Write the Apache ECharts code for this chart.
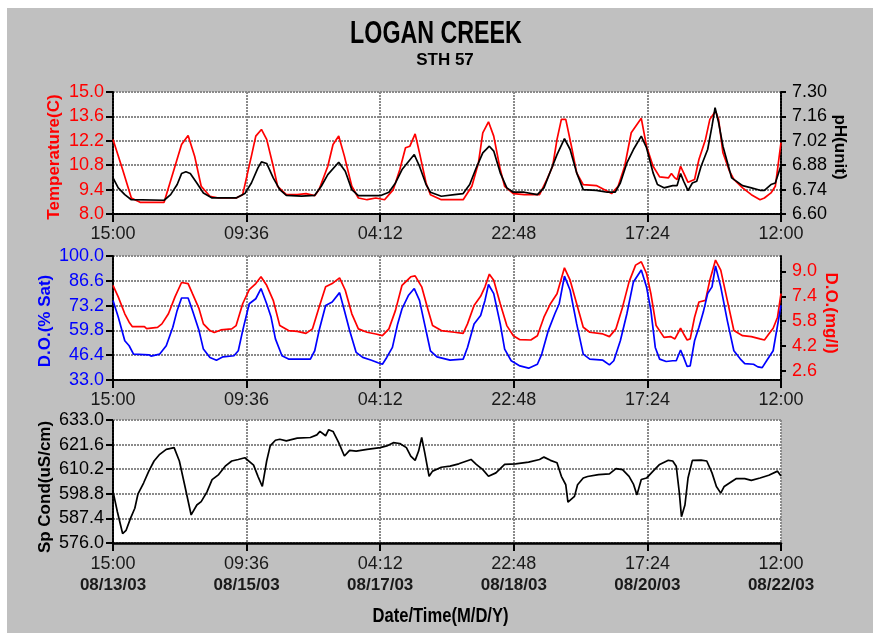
<!DOCTYPE html>
<html>
<head>
<meta charset="utf-8">
<script src="https://cdn.jsdelivr.net/npm/echarts@6/dist/echarts.min.js"></script>
<style>
html,body{margin:0;padding:0;background:#ffffff;}
#chart{position:absolute;left:7px;top:8px;width:866px;height:625px;}
</style>
</head>
<body>
<div id="chart"></div>
<script>
// ---- Data (x = hours since 08/13/03 15:00) ----
const timeLabels = ['15:00','09:36','04:12','22:48','17:24','12:00'];
const dateLabels = ['08/13/03','08/15/03','08/17/03','08/18/03','08/20/03','08/22/03'];
const doMgTicks = [2.6, 4.2, 5.8, 7.4, 9.0];

const temperature = [[0,12.28],[3.06,10.55],[5.85,8.92],[8.63,8.67],[16.29,8.67],[19.77,10.74],[21.86,11.99],[23.95,12.51],[26.03,11.32],[28.12,9.59],[30.91,9.02],[33.69,8.92],[39.26,8.92],[41.35,9.11],[44.13,11.32],[45.53,12.47],[47.33,12.85],[49.00,12.28],[51.09,10.74],[52.48,9.59],[55.27,9.11],[58.75,9.11],[61.53,9.17],[64.32,9.05],[65.71,9.40],[68.49,10.74],[70.16,11.99],[71.97,12.47],[73.78,11.32],[76.15,9.59],[78.24,8.92],[81.02,8.82],[83.81,8.92],[86.59,8.82],[89.38,9.40],[91.46,10.55],[93.27,11.80],[94.67,11.89],[96.34,12.60],[97.73,11.51],[99.82,9.78],[101.21,9.11],[104.69,8.82],[111.65,8.82],[114.43,9.59],[116.52,10.93],[117.91,12.66],[119.73,13.29],[121.40,12.47],[123.48,10.55],[124.88,9.59],[127.66,9.17],[131.14,9.11],[136.01,9.11],[138.10,9.88],[140.19,10.74],[141.58,12.28],[142.97,13.43],[144.37,13.43],[146.18,11.89],[147.85,10.36],[149.94,9.69],[154.11,9.63],[155.51,9.50],[158.98,9.17],[161.07,9.59],[163.16,10.74],[165.24,12.66],[168.45,13.49],[170.12,11.89],[172.21,10.74],[174.30,10.13],[177.08,10.07],[178.06,10.32],[179.17,10.07],[179.87,9.98],[180.98,10.74],[181.96,10.36],[183.35,9.82],[185.44,9.98],[186.83,11.13],[188.92,12.28],[190.31,13.43],[192.12,13.91],[193.10,13.43],[194.49,11.51],[196.58,10.46],[197.97,9.98],[200.75,9.50],[203.54,9.11],[206.32,8.82],[207.71,8.92],[209.80,9.21],[211.19,9.59],[213,12.09]];

const ph = [[0,6.807],[1.67,6.750],[3.76,6.711],[5.85,6.682],[16.29,6.679],[18.38,6.711],[20.46,6.769],[21.86,6.832],[23.25,6.842],[24.64,6.832],[26.73,6.778],[28.82,6.721],[31.60,6.692],[39.26,6.692],[42.04,6.717],[44.13,6.778],[46.22,6.865],[47.33,6.899],[49.00,6.890],[51.09,6.807],[53.18,6.740],[55.27,6.707],[60.14,6.702],[64.32,6.707],[66.41,6.759],[68.49,6.826],[71.97,6.897],[74.06,6.845],[76.15,6.740],[78.24,6.705],[85.20,6.705],[87.98,6.725],[90.07,6.778],[92.16,6.855],[96.06,6.941],[97.73,6.874],[99.82,6.769],[101.21,6.725],[104.69,6.702],[108.87,6.711],[111.65,6.717],[113.74,6.769],[115.83,6.865],[117.91,6.951],[120.01,6.989],[121.40,6.961],[123.48,6.836],[125.57,6.750],[127.66,6.725],[131.14,6.725],[135.32,6.711],[137.41,6.750],[139.49,6.845],[141.58,6.941],[143.95,7.033],[145.76,6.970],[147.85,6.836],[149.94,6.740],[154.11,6.736],[157.59,6.725],[160.10,6.725],[161.77,6.778],[163.86,6.893],[165.94,6.970],[168.45,7.047],[170.12,6.980],[172.21,6.836],[173.60,6.769],[175.69,6.750],[178.47,6.763],[179.87,6.763],[180.98,6.832],[181.96,6.788],[183.35,6.734],[184.74,6.778],[186.13,6.788],[187.52,6.874],[189.61,6.970],[191.00,7.104],[191.98,7.210],[193.10,7.124],[194.49,6.989],[197.27,6.807],[200.75,6.763],[203.54,6.750],[206.32,6.736],[207.71,6.736],[209.80,6.769],[211.19,6.778],[213,6.878]];

const doSat = [[0,76.0],[1.67,67.0],[3.76,54.2],[5.15,51.5],[6.54,47.0],[11.42,46.6],[12.11,45.9],[14.90,47.0],[16.98,51.5],[19.07,61.5],[20.46,70.6],[21.86,77.3],[23.95,77.3],[25.34,70.6],[27.43,59.7],[28.82,49.7],[30.91,45.2],[32.99,43.7],[35.08,45.5],[38.56,46.1],[39.95,48.8],[41.35,59.7],[43.44,74.2],[45.53,76.9],[47.19,82.4],[49.00,74.2],[50.40,67.0],[51.79,55.2],[53.88,46.1],[55.97,44.3],[62.93,44.3],[64.32,48.8],[65.71,59.7],[67.80,73.3],[69.89,75.1],[72.25,80.2],[73.78,70.6],[75.45,59.7],[77.54,47.9],[79.63,45.2],[82.42,43.7],[84.50,42.3],[85.90,41.5],[87.29,45.2],[89.10,50.6],[90.77,63.3],[92.16,71.5],[94.25,78.8],[96.06,82.4],[97.73,76.0],[99.12,65.1],[101.21,48.8],[103.30,45.5],[107.48,43.7],[111.65,44.3],[113.04,50.6],[115.13,63.3],[117.22,67.9],[118.61,76.0],[119.73,84.6],[121.40,79.7],[123.48,63.3],[124.88,49.7],[126.97,43.4],[129.75,40.6],[132.53,39.4],[135.32,41.5],[136.71,47.0],[138.80,59.7],[140.89,68.8],[142.28,74.2],[143.95,89.1],[145.76,81.5],[147.85,63.3],[149.94,47.0],[152.02,44.3],[156.20,43.7],[158.29,41.2],[159.68,43.4],[161.77,54.2],[163.86,68.8],[165.94,86.0],[168.45,92.4],[170.12,83.3],[171.51,70.6],[172.91,50.6],[174.30,44.3],[176.39,43.0],[178.47,43.4],[179.59,43.4],[180.98,49.2],[181.96,45.2],[183.07,40.3],[184.04,40.6],[185.44,54.2],[186.83,61.5],[188.22,69.7],[189.61,79.7],[191.00,83.3],[192.12,94.6],[193.79,83.3],[195.88,65.1],[197.97,48.8],[200.05,44.3],[201.45,41.9],[204.23,41.5],[205.62,40.1],[207.01,39.7],[208.41,43.4],[210.50,48.8],[213,73.3]];

const doMg = [[0,8.11],[1.67,7.36],[3.76,6.27],[5.15,5.73],[6.13,5.45],[10.02,5.45],[10.72,5.32],[14.20,5.40],[15.59,5.62],[17.68,6.27],[19.77,7.36],[21.86,8.29],[23.95,8.22],[25.34,7.57],[27.43,6.60],[28.82,5.62],[30.91,5.19],[32.30,5.06],[34.39,5.23],[37.87,5.30],[39.26,5.51],[41.35,6.92],[43.44,7.83],[45.53,8.22],[47.19,8.66],[49.00,8.11],[51.09,7.14],[53.18,5.51],[55.97,5.19],[58.75,5.14],[61.53,5.01],[63.62,5.30],[65.71,6.70],[67.80,8.01],[69.89,8.22],[72.25,8.59],[74.06,7.79],[76.15,6.27],[78.24,5.30],[81.02,5.08],[83.81,4.97],[85.90,4.86],[87.98,5.30],[90.07,6.49],[92.16,8.11],[94.94,8.66],[96.34,8.72],[98.43,8.01],[100.51,6.49],[101.90,5.51],[104.69,5.19],[108.87,5.08],[111.65,5.01],[113.04,5.62],[115.13,6.81],[117.22,7.40],[118.61,8.01],[120.01,8.83],[121.40,8.44],[123.48,6.92],[125.57,5.51],[127.66,4.86],[129.75,4.60],[133.23,4.58],[135.32,4.86],[137.41,6.05],[139.49,6.92],[141.58,7.57],[143.95,9.24],[145.76,8.44],[147.85,6.92],[149.94,5.40],[152.02,5.08],[156.20,4.97],[158.29,4.80],[160.38,5.30],[162.47,6.70],[164.55,8.33],[166.64,9.41],[168.45,9.63],[170.12,8.87],[171.51,7.57],[173.18,5.51],[175.69,4.75],[177.78,4.80],[179.17,4.65],[180.98,5.34],[181.96,4.97],[183.07,4.58],[184.04,4.65],[185.44,6.05],[186.83,7.03],[188.92,7.14],[190.31,8.44],[192.12,9.74],[193.79,9.09],[195.88,7.14],[197.97,5.19],[200.75,4.86],[203.54,4.80],[206.32,4.65],[207.71,4.58],[209.11,4.97],[210.50,5.34],[211.89,6.05],[213,7.57]];

const spCond = [[0,599.9],[1.39,590.5],[3.06,580.4],[4.18,581.9],[5.57,587.4],[6.96,592.1],[7.94,598.6],[9.75,603.8],[11.42,609.3],[13.09,614.0],[14.90,617.1],[16.98,619.4],[19.49,620.2],[21.16,614.0],[22.83,603.0],[24.92,589.0],[26.73,593.6],[28.12,595.2],[29.93,599.6],[31.60,605.4],[33.69,607.7],[35.78,611.6],[37.87,614.0],[39.95,614.7],[42.04,615.5],[44.83,612.1],[46.22,606.9],[47.61,602.2],[49.00,614.0],[50.12,621.0],[51.79,623.6],[53.18,624.1],[55.27,623.3],[58.75,624.6],[62.93,624.9],[65.01,626.1],[65.99,627.7],[67.80,625.7],[68.77,628.5],[70.16,627.7],[71.97,622.5],[73.78,616.3],[75.45,618.9],[77.54,618.6],[81.02,619.4],[85.20,620.2],[87.29,621.0],[89.38,622.5],[91.46,622.1],[93.55,620.2],[94.94,616.3],[96.34,614.3],[97.45,618.6],[98.43,624.9],[99.40,617.9],[100.79,606.9],[101.90,609.3],[104.69,611.1],[107.48,611.6],[110.26,612.7],[114.16,614.7],[115.83,612.4],[117.92,610.0],[119.73,606.9],[122.10,608.5],[124.88,612.4],[128.36,612.7],[132.53,613.5],[136.01,614.7],[137.41,615.8],[139.49,614.3],[141.58,613.2],[142.97,606.9],[144.37,603.0],[145.06,594.9],[147.15,597.6],[148.13,603.0],[149.94,606.1],[151.33,606.8],[154.81,607.7],[158.29,608.0],[160.38,610.5],[162.47,610.0],[164.55,606.9],[165.94,603.3],[167.06,598.3],[168.45,605.4],[170.12,606.1],[172.21,609.3],[174.30,612.4],[177.08,614.3],[178.47,614.0],[179.59,611.6],[180.56,599.6],[181.26,588.2],[182.37,593.6],[183.35,606.1],[184.74,614.3],[187.52,614.4],[189.33,614.0],[191.00,608.5],[192.40,602.2],[193.79,599.1],[194.90,602.2],[196.58,603.8],[198.66,605.8],[201.45,605.8],[203.54,605.0],[206.32,606.1],[209.11,607.4],[211.89,609.3],[213,607.0]];

// ---- Build chart ----
const NARROW = "'Liberation Sans Narrow','Arial Narrow','Liberation Sans',Arial,sans-serif";
const SANS = "'Liberation Sans',Arial,sans-serif";
const X_MAX = 213 * 60;       // minutes
const X_STEP = X_MAX / 5;     // 2556 minutes
const toMin = arr => arr.map(p => [p[0] * 60, p[1]]);

const gridLine = {show: true, lineStyle: {color: '#8a8a8a', width: 2, type: [2, 1]}};
const dottedAxis = {color: '#000', width: 2, type: [2, 1]};

function xAxis(i, withDate) {
  return {
    type: 'value', gridIndex: i, min: 0, max: X_MAX, interval: X_STEP,
    axisLine: {show: true, onZero: false, lineStyle: withDate ? {color: '#000', width: 2.5} : dottedAxis},
    axisTick: {show: true, length: 8, lineStyle: {color: '#000', width: 2}},
    splitLine: gridLine,
    axisLabel: {
      show: true, margin: 11, showMinLabel: true, showMaxLabel: true,
      color: '#1a1a1a', fontSize: 18, fontFamily: NARROW,
      formatter: v => {
        const k = Math.round(v / X_STEP);
        return withDate ? '{t|' + timeLabels[k] + '}\n{d|' + dateLabels[k] + '}' : timeLabels[k];
      },
      rich: withDate ? {
        t: {fontSize: 18, fontFamily: NARROW, color: '#1a1a1a', lineHeight: 21},
        d: {fontSize: 17, fontFamily: SANS, fontWeight: 'bold', color: '#1a1a1a', lineHeight: 21}
      } : undefined
    }
  };
}

function yAxis(i, pos, min, max, interval, color, digits, extra) {
  const ax = {
    type: 'value', gridIndex: i, position: pos, min: min, max: max, interval: interval,
    axisLine: {show: true, lineStyle: dottedAxis},
    axisTick: {show: true, length: pos === 'left' ? 7 : 5, lineStyle: {color: '#000', width: 2}},
    splitLine: pos === 'left' ? gridLine : {show: false},
    axisLabel: {show: true, margin: pos === 'left' ? 9 : 11, color: color, fontSize: 18, fontFamily: NARROW,
      showMinLabel: true, showMaxLabel: true, formatter: v => v.toFixed(digits)}
  };
  return Object.assign(ax, extra || {});
}

const yAxes = [
  yAxis(0, 'left', 8, 15, 1.4, '#ff0000', 1),
  yAxis(0, 'right', 6.6, 7.3, 0.14, '#000000', 2),
  yAxis(1, 'left', 33, 100, 13.4, '#0000ff', 1),
  yAxis(1, 'right', 2, 10, 1.6, '#ff0000', 1),
  yAxis(2, 'left', 576, 633, 11.4, '#000000', 1)
];
yAxes[3].axisLabel.customValues = doMgTicks;
yAxes[3].axisTick.customValues = doMgTicks;

function line(data, xi, yi, color) {
  return {type: 'line', data: toMin(data), xAxisIndex: xi, yAxisIndex: yi,
    showSymbol: false, symbol: 'none', animation: false,
    lineStyle: {color: color, width: 1.7}, itemStyle: {color: color}};
}

function label(text, x, y, rot, color, size, sx) {
  return {type: 'text', x: x, y: y, rotation: rot, scaleX: sx || 1, z: 100,
    style: {text: text, fill: color, fontSize: size, fontWeight: 'bold', fontFamily: SANS,
      align: 'center', verticalAlign: 'middle'}};
}

const chart = echarts.init(document.getElementById('chart'), null, {renderer: 'canvas'});
chart.setOption({
  backgroundColor: '#c0c0c0',
  animation: false,
  grid: [
    {left: 106, right: 92, top: 84, height: 122, show: true, backgroundColor: '#ffffff', borderWidth: 0},
    {left: 106, right: 92, top: 248, height: 124, show: true, backgroundColor: '#ffffff', borderWidth: 0},
    {left: 106, right: 92, top: 412, height: 123, show: true, backgroundColor: '#ffffff', borderWidth: 0}
  ],
  xAxis: [xAxis(0, false), xAxis(1, false), xAxis(2, true)],
  yAxis: yAxes,
  series: [
    line(temperature, 0, 0, '#ff0000'),
    line(ph, 0, 1, '#000000'),
    line(doMg, 1, 3, '#ff0000'),
    line(doSat, 1, 2, '#0000ff'),
    line(spCond, 2, 4, '#000000')
  ],
  graphic: [
    label('LOGAN CREEK', 429, 26, 0, '#000', 31, 0.75),
    label('STH 57', 438, 52, 0, '#000', 17, 1),
    label('Temperature(C)', 47.5, 149, Math.PI / 2, '#ff0000', 17),
    label('pH(unit)', 833, 139, -Math.PI / 2, '#000', 17),
    label('D.O.(% Sat)', 38, 313, Math.PI / 2, '#0000ff', 17),
    label('D.O.(mg/l)', 824, 305, -Math.PI / 2, '#ff0000', 17),
    label('Sp Cond(uS/cm)', 38, 479, Math.PI / 2, '#000', 17),
    label('Date/Time(M/D/Y)', 433.5, 608, 0, '#000', 21, 0.79)
  ]
});
</script>
</body>
</html>
